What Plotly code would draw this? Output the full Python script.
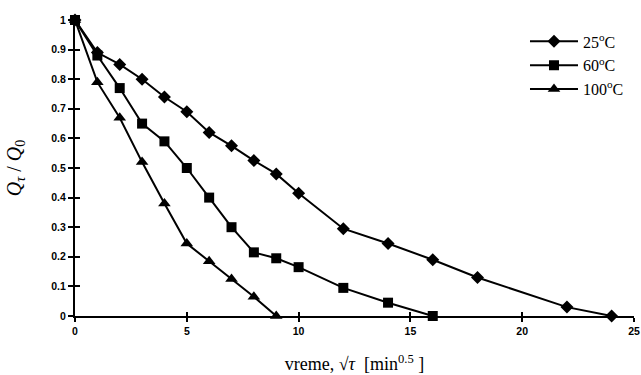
import plotly.graph_objects as go

x25 = [0, 1, 2, 3, 4, 5, 6, 7, 8, 9, 10, 12, 14, 16, 18, 22, 24]
y25 = [1, 0.89, 0.85, 0.80, 0.74, 0.69, 0.62, 0.575, 0.525, 0.48, 0.415, 0.295, 0.245, 0.19, 0.13, 0.03, 0]
x60 = [0, 1, 2, 3, 4, 5, 6, 7, 8, 9, 10, 12, 14, 16]
y60 = [1, 0.88, 0.77, 0.65, 0.59, 0.50, 0.40, 0.30, 0.215, 0.195, 0.165, 0.095, 0.045, 0]
x100 = [0, 1, 2, 3, 4, 5, 6, 7, 8, 9]
y100 = [1, 0.79, 0.67, 0.52, 0.38, 0.245, 0.185, 0.125, 0.065, 0]
names = ["25<sup>o</sup>C", "60<sup>o</sup>C", "100<sup>o</sup>C"]
xticks = [0, 5, 10, 15, 20, 25]
yticks = [0, 0.1, 0.2, 0.3, 0.4, 0.5, 0.6, 0.7, 0.8, 0.9, 1]
ytick_text = ["0", "0.1", "0.2", "0.3", "0.4", "0.5", "0.6", "0.7", "0.8", "0.9", "1"]

fig = go.Figure()
for xs, ys, nm, sym, sz in [(x25, y25, names[0], "diamond", 10),
                            (x60, y60, names[1], "square", 10),
                            (x100, y100, names[2], "triangle-up", 11)]:
    fig.add_trace(go.Scatter(x=xs, y=ys, name=nm, mode="lines+markers",
                             line=dict(color="black", width=2),
                             marker=dict(symbol=sym, size=sz, color="black"),
                             cliponaxis=False))

tickfont = dict(family="Arial, Liberation Sans", size=10.5, color="black", weight="bold")
serif = "Liberation Serif, Times New Roman"
fig.update_layout(
    width=641, height=375,
    margin=dict(l=75, r=7, t=20, b=59, autoexpand=False),
    paper_bgcolor="white", plot_bgcolor="white",
    showlegend=True,
    legend=dict(x=0.805, y=0.985, xanchor="left", yanchor="top",
                font=dict(family=serif, size=16, color="black"),
                itemwidth=48, tracegroupgap=0, bgcolor="rgba(0,0,0,0)"),
    xaxis=dict(range=[0, 25], tickvals=xticks, showgrid=False, zeroline=False, automargin=False,
               showline=True, linecolor="black", linewidth=2,
               ticks="outside", ticklen=4, tickwidth=1.5, tickcolor="black",
               tickfont=tickfont,
               title=dict(text="vreme, √<i>τ</i>  [min<sup>0.5</sup> ]",
                          font=dict(family=serif, size=18, color="black"),
                          standoff=22)),
    yaxis=dict(range=[0, 1], tickvals=yticks, ticktext=ytick_text, showgrid=False, zeroline=False,
               automargin=False,
               showline=True, linecolor="black", linewidth=2,
               ticks="outside", ticklen=5, tickwidth=1.5, tickcolor="black",
               tickfont=tickfont,
               title=dict(text="<i>Q</i><sub><i>τ</i></sub> / <i>Q</i><sub>0</sub>",
                          font=dict(family=serif, size=20, color="black"),
                          standoff=24)),
    xaxis2=dict(range=[0, 25], tickvals=xticks, overlaying="x", anchor="y", automargin=False,
                showgrid=False, zeroline=False, showline=False, showticklabels=False,
                ticks="inside", ticklen=4, tickwidth=1.5, tickcolor="black"),
    yaxis2=dict(range=[0, 1], tickvals=yticks, overlaying="y", anchor="x", automargin=False,
                showgrid=False, zeroline=False, showline=False, showticklabels=False,
                ticks="inside", ticklen=5, tickwidth=1.5, tickcolor="black"),
)
fig.add_trace(go.Scatter(x=[None], y=[None], xaxis="x2", yaxis="y2", showlegend=False, hoverinfo="skip"))

fig.write_html("out.html", config={"displayModeBar": False},
               post_script="document.body.style.margin='0';document.body.style.overflow='hidden';")
